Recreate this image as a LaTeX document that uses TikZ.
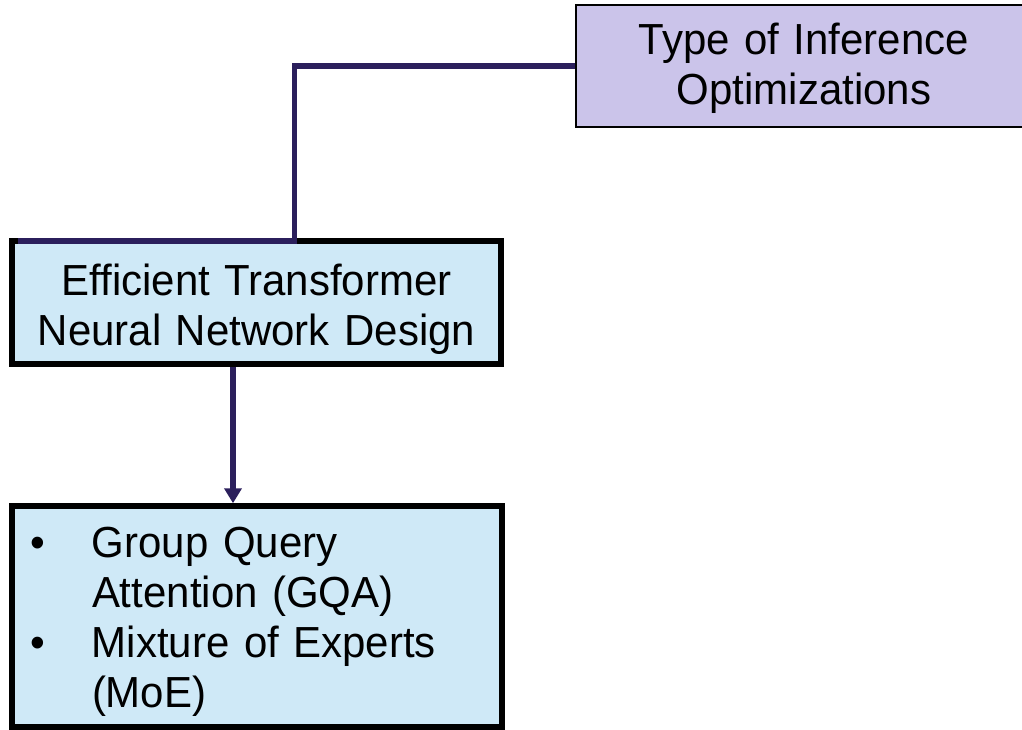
\documentclass[tikz,border=0pt]{standalone}
\usepackage{fontspec}
\setmainfont{Liberation Sans}[FakeStretch=0.965]
\usetikzlibrary{arrows.meta}
\definecolor{lav}{RGB}{203,196,234}
\definecolor{lblue}{RGB}{207,233,247}
\definecolor{linkc}{RGB}{43,31,92}
\tikzset{
  box/.style={draw=black, rectangle, inner sep=0pt, font=\fontsize{43.5}{50}\selectfont},
  thickbox/.style={box, fill=lblue, line width=5.5pt},
  link/.style={draw=linkc, line width=5.5pt, line join=miter}
}
\begin{document}
\begin{tikzpicture}[x=1pt,y=-1pt]
\useasboundingbox (0,0) rectangle (1022,730);
\clip (0,0) rectangle (1022,730);
\node[box, fill=lav, line width=2.5pt, text width=450pt, align=center, minimum width=456pt, minimum height=122pt, text height=31pt, text depth=53pt] (top) at (804,66) {Type of Inference\\Optimizations};
\node[thickbox, text width=480pt, align=center, minimum width=489pt, minimum height=123pt, text height=31pt, text depth=45pt] (mid) at (256.5,302.5) {Efficient Transformer\\Neural Network Design};
\node[thickbox, text width=453pt, align=left, minimum width=490pt, minimum height=221pt, text height=31pt, text depth=150pt] (bot) at (257,616.5) {\makebox[61.5pt][l]{•}Group Query\\
\hspace*{61.5pt}Attention (GQA)\\
\makebox[61.5pt][l]{•}Mixture of Experts\\
\hspace*{61.5pt}(MoE)};
\coordinate (j) at (294.5,241);
\coordinate (e) at (18,241);
\coordinate (ax) at (233,0);
\draw[link] (top.west) -| (j) -- (e);
\draw[link, -{Triangle[width=17pt,length=15pt]}] (mid.south -| ax) -- (bot.north -| ax);
\end{tikzpicture}
\end{document}
